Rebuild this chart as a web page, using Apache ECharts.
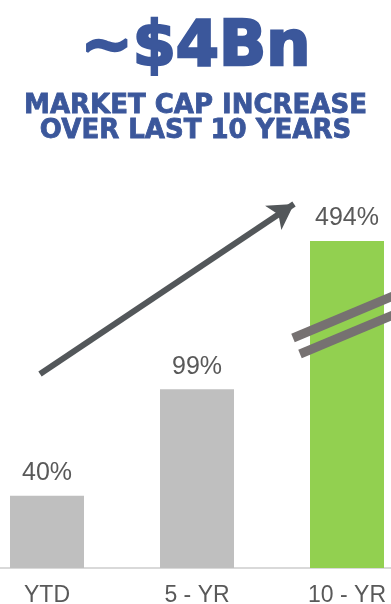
<!DOCTYPE html>
<html>
<head>
<meta charset="utf-8">
<script src="https://cdn.jsdelivr.net/npm/echarts@6/dist/echarts.min.js"></script>
<style>
  html, body { margin: 0; padding: 0; background: #fff; }
  #chart { width: 391px; height: 604px; }
</style>
</head>
<body>
<div id="chart"></div>
<script>
const categories = ['YTD', '5 - YR', '10 - YR'];
const values = [40, 99, 494];
const barColors = ['#BFBFBF', '#BFBFBF', '#92D050'];
// the tall bar is cut by an axis break
const breakStart = 127;
const breakEnd = 458;

const chart = echarts.init(document.getElementById('chart'));

const titleBlue = '#3B579B';
const subStyle = {
  fontFamily: 'DejaVu Sans',
  fontWeight: 'bold',
  fontSize: 26,
  color: titleBlue,
  textBorderColor: titleBlue,
  textBorderWidth: 0.8,
};

const option = {
  animation: false,
  title: [
    {
      text: '~$4Bn',
      left: 'center',
      top: 13,
      textStyle: {
        fontFamily: 'DejaVu Sans',
        fontWeight: 'bold',
        fontSize: 62,
        color: titleBlue,
        textBorderColor: titleBlue,
        textBorderWidth: 2.5,
      },
    },
    { text: 'MARKET CAP INCREASE', left: 'center', top: 88, textStyle: subStyle },
    { text: 'OVER LAST 10 YEARS', left: 'center', top: 113, textStyle: subStyle },
  ],
  grid: {
    left: -28,
    right: -31,
    top: 241,
    bottom: 36,
    containLabel: false,
    outerBoundsMode: 'none',
  },
  xAxis: {
    type: 'category',
    data: categories,
    axisLine: { lineStyle: { color: '#D9D9D9', width: 2 } },
    axisTick: { show: false },
    axisLabel: {
      fontFamily: 'Liberation Sans',
      fontSize: 23,
      color: '#595959',
      margin: 16,
    },
  },
  yAxis: {
    type: 'value',
    min: 0,
    max: 494,
    show: false,
    splitLine: { show: false },
    breaks: [{ start: breakStart, end: breakEnd, gap: '10%' }],
    breakArea: { show: false },
  },
  series: [
    {
      type: 'bar',
      barWidth: 74,
      clip: false,
      data: values.map((v, i) => ({ value: v, itemStyle: { color: barColors[i] } })),
      label: {
        show: true,
        position: 'top',
        distance: 10,
        formatter: '{c}%',
        fontFamily: 'Liberation Sans',
        fontSize: 25,
        color: '#595959',
      },
      markLine: {
        silent: true,
        symbol: ['none', 'none'],
        label: { show: false },
        data: [
          [
            { x: 40, y: 374, lineStyle: { color: '#53575A', width: 6, type: 'solid' } },
            { x: 294, y: 204, symbol: 'arrow', symbolSize: [22, 25] },
          ],
          [
            { x: 293, y: 338, lineStyle: { color: '#767171', width: 9, type: 'solid' } },
            { x: 400, y: 293 },
          ],
          [
            { x: 300, y: 354, lineStyle: { color: '#767171', width: 9, type: 'solid' } },
            { x: 400, y: 312 },
          ],
        ],
      },
    },
  ],
};

chart.setOption(option);
</script>
</body>
</html>
